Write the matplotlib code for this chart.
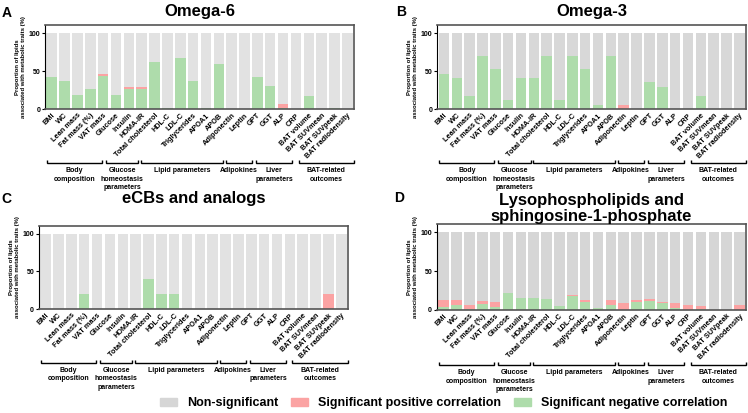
import matplotlib
matplotlib.use("Agg")
import matplotlib.pyplot as plt
from matplotlib.patches import Patch
from matplotlib.transforms import blended_transform_factory
import numpy as np

plt.rcParams["font.family"] = ["Liberation Sans", "DejaVu Sans"]
plt.rcParams["font.weight"] = "bold"

categories = ["BMI", "WC", "Lean mass", "Fat mass (%)", "VAT mass", "Glucose", "Insulin",
              "HOMA-IR", "Total cholesterol", "HDL-C", "LDL-C", "Triglycerides", "APOA1",
              "APOB", "Adiponectin", "Leptin", "GPT", "GGT", "ALP", "CRP", "BAT volume",
              "BAT SUVmean", "BAT SUVpeak", "BAT radiodensity"]

# % of lipids with significant negative / positive correlation
omega6_neg = [42, 37, 19, 27, 44, 19, 27, 27, 62, 2, 67, 37, 2, 60, 0, 0, 42, 30, 2, 0, 17.5, 0, 1.5, 0]
omega6_pos = [0, 0, 0, 0, 3, 0, 2.5, 2.5, 0, 0, 0, 0, 0, 0, 0, 0, 0, 0, 5, 0, 0, 0, 0, 0]

omega3_neg = [47, 41, 17.6, 70.6, 53, 11.8, 41, 41, 70.6, 11.8, 70.6, 53, 5.9, 70.6, 0, 0,
              35.3, 29.4, 0, 0, 17.6, 0, 0, 0]
omega3_pos = [0, 0, 0, 0, 0, 0, 0, 0, 0, 0, 0, 0, 0, 0, 5.9, 0, 0, 0, 0, 0, 0, 0, 0, 0]

ecb_neg = [0, 0, 0, 20, 0, 0, 0, 0, 40, 20, 20, 0, 0, 0, 0, 0, 0, 0, 0, 0, 0, 0, 0, 0]
ecb_pos = [0, 0, 0, 0, 0, 0, 0, 0, 0, 0, 0, 0, 0, 0, 0, 0, 0, 0, 0, 0, 0, 0, 20, 0]

lyso_neg = [4.5, 6.5, 1, 8, 4.5, 21.5, 16, 16, 14, 5, 17.5, 10.5, 3, 6.5, 0, 10.5,
            12, 8.5, 3, 0, 1.3, 0, 0, 0]
lyso_pos = [8, 6, 5.5, 4, 6, 0, 0, 0, 0, 0, 2, 2, 0, 6, 9, 2, 2, 2, 6, 6.5, 3.5, 0, 0, 6.6]

groups = ["Body\ncomposition", "Glucose\nhomeostasis\nparameters", "Lipid parameters",
          "Adipokines", "Liver\nparameters", "BAT-related\noutcomes"]
# bracket spans in bar units (as drawn in the figure)
group_spans = [(-0.35, 3.9), (4.2, 6.75), (6.95, 13.35), (13.55, 15.6), (15.9, 18.7), (19.2, 23.5)]

GREEN = "#aedcab"
PINK = "#fba3a3"

fig = plt.figure(figsize=(7.48, 4.13), dpi=100)

panels = [
    ("A", "Omega-6", omega6_neg, omega6_pos, [0.0602, 0.7354, 0.4131, 0.2034], "#e2e2e2", 7),
    ("B", "Omega-3", omega3_neg, omega3_pos, [0.5846, 0.7354, 0.4127, 0.2034], "#d8d8d8", 7),
    ("C", "eCBs and analogs", ecb_neg, ecb_pos, [0.0521, 0.2511, 0.4131, 0.2024], "#e2e2e2", 16),
    ("D", "Lysophospholipids and\nsphingosine-1-phosphate", lyso_neg, lyso_pos,
     [0.5842, 0.2494, 0.4134, 0.2075], "#d6d6d6", 1.5),
]

letter_pos = {"A": (2, 17), "B": (396, 16), "C": (1, 203), "D": (394, 202)}

for letter, title, neg, pos, rect, gray, pad in panels:
    ax = fig.add_axes(rect)
    x = np.arange(len(categories))
    neg = np.array(neg, dtype=float)
    pos = np.array(pos, dtype=float)
    ns = 100 - neg - pos
    ax.bar(x, neg, width=0.82, color=GREEN, linewidth=0)
    ax.bar(x, pos, bottom=neg, width=0.82, color=PINK, linewidth=0)
    ax.bar(x, ns, bottom=neg + pos, width=0.82, color=gray, linewidth=0)
    ax.set_xlim(-0.52, 23.52)
    ax.set_ylim(0, 110.5)
    ax.set_yticks([0, 50, 100])
    ax.tick_params(axis="y", labelsize=5, length=2.5, width=0.8, pad=1)
    ax.set_xticks(x)
    ax.set_xticklabels(categories, rotation=45, ha="right", rotation_mode="anchor",
                       fontsize=5.3, fontweight="bold")
    ax.tick_params(axis="x", length=0, pad=2)
    for lab in ax.get_yticklabels():
        lab.set_fontweight("bold")
    for side in ["top", "right", "bottom"]:
        ax.spines[side].set_color("#555555")
        ax.spines[side].set_linewidth(1.2)
    ax.spines["left"].set_linewidth(0.8)
    ax.set_ylabel("Proportion of lipids\nassociated with metabolic traits (%)",
                  fontsize=4.3, fontweight="bold", labelpad=2)
    ax.set_title(title, fontsize=12, fontweight="bold", pad=pad, linespacing=1.1)

    tr = blended_transform_factory(ax.transData, ax.transAxes)
    yb = -0.64
    for name, (s, e) in zip(groups, group_spans):
        ax.plot([s, s, e, e], [yb + 0.035, yb, yb, yb + 0.035], color="black", lw=1.0,
                transform=tr, clip_on=False, solid_joinstyle="miter", solid_capstyle="butt")
        ax.text((s + e) / 2, yb - 0.05, name, transform=tr, ha="center", va="top",
                fontsize=5, fontweight="bold", linespacing=1.3)

    lx, ly = letter_pos[letter]
    fig.text(lx / 748, 1 - ly / 413, letter, fontsize=10, fontweight="bold",
             ha="left", va="baseline")

handles = [Patch(color="#d6d6d6"), Patch(color=PINK), Patch(color=GREEN)]
labels = ["Non-significant", "Significant positive correlation", "Significant negative correlation"]
fig.legend(handles, labels, loc="center", bbox_to_anchor=(0.593, 0.024), ncol=3,
           frameon=False, prop={"size": 9, "weight": "bold"}, handlelength=1.4,
           handleheight=0.6, handletextpad=0.8, columnspacing=1.0, borderpad=0)

fig.savefig("out.png", dpi=100)
